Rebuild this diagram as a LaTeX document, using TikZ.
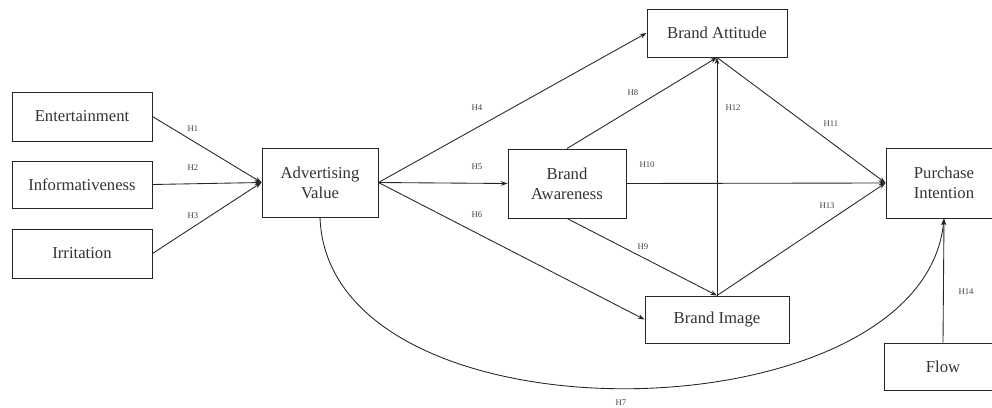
\documentclass[tikz,border=0pt]{standalone}
\usepackage{fontspec}
\setmainfont{Liberation Serif}
\usetikzlibrary{arrows.meta}
\begin{document}
\begin{tikzpicture}[x=0.75pt,y=-0.75pt,
  box/.style={draw=black!85, line width=0.7pt, inner sep=0pt, align=center, text=black!80, font=\fontsize{12.5}{15}\selectfont},
  hlab/.style={inner sep=0pt, text=black!75, font=\fontsize{6.5}{7}\selectfont},
  conn/.style={draw=black!85, line width=0.65pt, -{Stealth[length=5pt,width=3.5pt]}}]
\clip (0,0) rectangle (992,407);
\fill[white] (0,0) rectangle (992,407);
% boxes
\node[box, minimum width=105pt, minimum height=36.75pt] (ent) at (82,116.5) {Entertainment};
\node[box, minimum width=105pt, minimum height=35.25pt] (inf) at (82,184.5) {Informativeness};
\node[box, minimum width=105pt, minimum height=36.75pt] (irr) at (82,253.5) {Irritation};
\node[box, minimum width=87pt, minimum height=51.75pt] (av) at (320,182.5) {Advertising\\Value};
\node[box, minimum width=105pt, minimum height=36pt] (batt) at (717,33) {Brand Attitude};
\node[box, minimum width=88.5pt, minimum height=51.75pt] (baw) at (567,183.5) {Brand\\Awareness};
\node[box, minimum width=108pt, minimum height=35.25pt] (bi) at (717,319.5) {Brand Image};
\node[box, minimum width=87pt, minimum height=52.5pt] (pi) at (944,183) {Purchase\\Intention};
\node[box, minimum width=88.5pt, minimum height=35.25pt] (flow) at (943,366.5) {Flow};
% connectors
\draw[conn] (ent.east) -- (av.west);
\draw[conn] (inf.east) -- (av.west);
\draw[conn] (irr.east) -- (av.west);
\draw[conn] (av.east) -- (batt.west);
\draw[conn] (av.east) -- (baw.west);
\draw[conn] (av.east) -- (bi.west);
\draw[conn] (av.south) .. controls (328,450) and (922,440) .. (pi.south);
\draw[conn] (baw.north) -- (batt.south);
\draw[conn] (baw.south) -- (bi.north);
\draw[conn] (baw.east) -- (pi.west);
\draw[conn] (batt.south) -- (pi.west);
\draw[conn] (bi.north) -- (batt.south);
\draw[conn] (bi.north) -- (pi.west);
\draw[conn] (flow.north) -- (pi.south);
% labels
\node[hlab] (h1) at (193,129) {H1};
\node[hlab] (h2) at (193,168) {H2};
\node[hlab] (h3) at (193,216) {H3};
\node[hlab] (h4) at (477,108) {H4};
\node[hlab] (h5) at (477,167) {H5};
\node[hlab] (h6) at (477,215) {H6};
\node[hlab] (h7) at (621,403) {H7};
\node[hlab] (h8) at (633,93) {H8};
\node[hlab] (h9) at (643,247) {H9};
\node[hlab] (h10) at (647,165) {H10};
\node[hlab] (h11) at (831,124) {H11};
\node[hlab] (h12) at (733,108) {H12};
\node[hlab] (h13) at (827,206) {H13};
\node[hlab] (h14) at (966,292) {H14};
\end{tikzpicture}
\end{document}
